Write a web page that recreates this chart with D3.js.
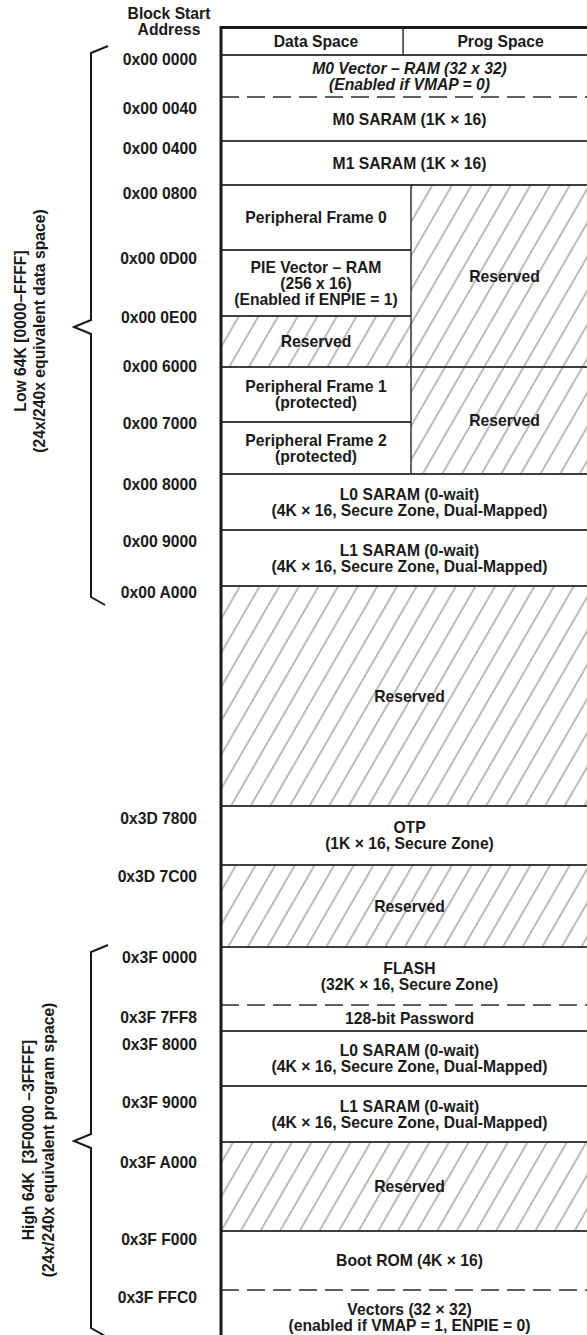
<!DOCTYPE html>
<html>
<head lang="en">
  <meta charset="UTF-8">
  <title>Memory map</title>
  <script src="https://cdn.jsdelivr.net/npm/d3@7"></script>
  <style>
    body { margin: 0; background: #fff; }
    text { font-family: 'Liberation Sans', Arial, sans-serif; font-weight: bold; fill: #1a1a1a; }
  </style>
</head>
<body>
  <script type="text/javascript">
    var W = 587, H = 1335;

    var columns = ['Data Space', 'Prog Space'];
    var axisTitle = ['Block Start', 'Address'];

    var addresses = ['0x00 0000', '0x00 0040', '0x00 0400', '0x00 0800', '0x00 0D00', '0x00 0E00',
                     '0x00 6000', '0x00 7000', '0x00 8000', '0x00 9000', '0x00 A000', '0x3D 7800',
                     '0x3D 7C00', '0x3F 0000', '0x3F 7FF8', '0x3F 8000', '0x3F 9000', '0x3F A000',
                     '0x3F F000', '0x3F FFC0'];
    // where each address label sits along the map (map units, 0 = below the header)
    var addressAt = [4, 53, 93, 138, 203, 262, 311, 368, 429, 486, 537, 763, 821, 902, 962, 989,
                     1047, 1107, 1184, 1242];

    // memory blocks, top to bottom: text, which space, span along the map
    var blocks = [
      {text: ['M0 Vector – RAM (32 x 32)', '(Enabled if VMAP = 0)'], col: 'all', from: 0, to: 42},
      {text: ['M0 SARAM (1K × 16)'], col: 'all', from: 42, to: 86},
      {text: ['M1 SARAM (1K × 16)'], col: 'all', from: 86, to: 130},
      {text: ['Peripheral Frame 0'], col: 'data', from: 130, to: 195},
      {text: ['PIE Vector – RAM', '(256 x 16)', '(Enabled if ENPIE = 1)'], col: 'data', from: 195, to: 261},
      {text: ['Reserved'], col: 'data', from: 261, to: 312},
      {text: ['Peripheral Frame 1', '(protected)'], col: 'data', from: 312, to: 367},
      {text: ['Peripheral Frame 2', '(protected)'], col: 'data', from: 367, to: 419},
      {text: ['Reserved'], col: 'prog', from: 130, to: 312},
      {text: ['Reserved'], col: 'prog', from: 312, to: 419},
      {text: ['L0 SARAM (0-wait)', '(4K × 16, Secure Zone, Dual-Mapped)'], col: 'all', from: 419, to: 475},
      {text: ['L1 SARAM (0-wait)', '(4K × 16, Secure Zone, Dual-Mapped)'], col: 'all', from: 475, to: 531},
      {text: ['Reserved'], col: 'all', from: 531, to: 751},
      {text: ['OTP', '(1K × 16, Secure Zone)'], col: 'all', from: 751, to: 810},
      {text: ['Reserved'], col: 'all', from: 810, to: 892},
      {text: ['FLASH', '(32K × 16, Secure Zone)'], col: 'all', from: 892, to: 950},
      {text: ['128-bit Password'], col: 'all', from: 950, to: 976},
      {text: ['L0 SARAM (0-wait)', '(4K × 16, Secure Zone, Dual-Mapped)'], col: 'all', from: 976, to: 1031},
      {text: ['L1 SARAM (0-wait)', '(4K × 16, Secure Zone, Dual-Mapped)'], col: 'all', from: 1031, to: 1087},
      {text: ['Reserved'], col: 'all', from: 1087, to: 1176},
      {text: ['Boot ROM (4K × 16)'], col: 'all', from: 1176, to: 1235},
      {text: ['Vectors (32 × 32)', '(enabled if VMAP = 1, ENPIE = 0)'], col: 'all', from: 1235, to: 1289}
    ];
    // boundaries drawn dashed (map units)
    var dashedAt = [42, 950, 1235];
    var italicBlocks = [0];

    // braces on the left: label lines, span and tip (map units)
    var groups = [
      {lines: ['Low 64K [0000–FFFF]', '(24x/240x equivalent data space)'], from: -2, to: 542, tip: 272, mid: 276},
      {lines: ['High 64K  [3F0000 –3FFFF]', '(24x/240x equivalent program space)'], from: 897, to: 1273, tip: 1086, mid: 1085}
    ];
    var groupTextX = [[20, 39], [28, 48]];

    var svg = d3.select('body').append('svg')
        .attr('width', W)
        .attr('height', H);

    var y = d3.scaleLinear().domain([0, 1289]).range([55, 1344]);
    var x = d3.scaleLinear().domain([0, 1]).range([221, 598]);
    var split = 0.504, headSplit = 0.483;

    function colX(col) {
      if (col === 'data') return [x(0), x(split)];
      if (col === 'prog') return [x(split), x(1)];
      return [x(0), x(1)];
    }

    // hatch for reserved areas
    var defs = svg.append('defs');
    var pat = defs.append('pattern')
        .attr('id', 'hatch')
        .attr('patternUnits', 'userSpaceOnUse')
        .attr('width', 17)
        .attr('height', 40)
        .attr('patternTransform', 'rotate(30)');
    pat.append('line')
        .attr('x1', 8).attr('y1', 0).attr('x2', 8).attr('y2', 40)
        .attr('stroke', '#b4b4b4')
        .attr('stroke-width', 1.8);

    // cells
    blocks.forEach(function (b, i) {
      var xs = colX(b.col);
      var reserved = b.text[0] === 'Reserved';
      svg.append('rect')
          .attr('x', xs[0]).attr('y', y(b.from))
          .attr('width', xs[1] - xs[0]).attr('height', y(b.to) - y(b.from))
          .attr('fill', reserved ? 'url(#hatch)' : '#fff');
    });

    // cell boundaries
    blocks.forEach(function (b) {
      var xs = colX(b.col);
      [b.from, b.to].forEach(function (v) {
        var dashed = dashedAt.indexOf(v) >= 0;
        svg.append('line')
            .attr('x1', xs[0]).attr('x2', xs[1])
            .attr('y1', y(v)).attr('y2', y(v))
            .attr('stroke', dashed ? '#555' : '#333')
            .attr('stroke-width', dashed ? 1.3 : 1.5)
            .attr('stroke-dasharray', dashed ? '18,8' : null);
      });
      if (b.col === 'prog') {
        svg.append('line')
            .attr('x1', xs[0]).attr('x2', xs[0])
            .attr('y1', y(b.from)).attr('y2', y(b.to))
            .attr('stroke', '#333').attr('stroke-width', 1.5);
      }
    });

    // header row
    svg.append('line')
        .attr('x1', x(headSplit)).attr('x2', x(headSplit))
        .attr('y1', y(-27.5)).attr('y2', y(0))
        .attr('stroke', '#333').attr('stroke-width', 1.5);
    svg.append('line')
        .attr('x1', x(0)).attr('x2', x(1))
        .attr('y1', y(0)).attr('y2', y(0))
        .attr('stroke', '#333').attr('stroke-width', 1.5);

    var fs = 15.7, lh = 16;
    svg.selectAll('.colhead')
        .data(columns)
        .enter().append('text')
        .attr('class', 'colhead')
        .attr('x', function (d, i) { return i === 0 ? (x(0) + x(split)) / 2 : (x(headSplit) + x(1)) / 2; })
        .attr('y', (y(-27.5) + y(0)) / 2 + fs * 0.36)
        .attr('text-anchor', 'middle')
        .style('font-size', fs + 'px')
        .text(function (d) { return d; });

    // thick outer border (top and left)
    svg.append('path')
        .attr('d', 'M' + x(1) + ',' + y(-27.5) + 'H' + x(0) + 'V' + H)
        .attr('fill', 'none')
        .attr('stroke', '#1a1a1a')
        .attr('stroke-width', 3);

    // block labels
    blocks.forEach(function (b, i) {
      var xs = colX(b.col);
      var cy = (y(b.from) + y(b.to)) / 2;
      var n = b.text.length;
      var t = svg.append('text')
          .attr('text-anchor', 'middle')
          .style('font-size', fs + 'px')
          .style('font-style', italicBlocks.indexOf(i) >= 0 ? 'italic' : 'normal');
      b.text.forEach(function (line, k) {
        t.append('tspan')
            .attr('x', (xs[0] + xs[1]) / 2)
            .attr('y', cy + (k - (n - 1) / 2) * lh + fs * 0.36)
            .text(line);
      });
    });

    // address axis
    svg.append('text')
        .attr('text-anchor', 'middle')
        .style('font-size', fs + 'px')
        .selectAll('tspan')
        .data(axisTitle)
        .enter().append('tspan')
        .attr('x', 169)
        .attr('y', function (d, i) { return 13 + fs * 0.36 + i * 16; })
        .text(function (d) { return d; });

    svg.selectAll('.addr')
        .data(addresses)
        .enter().append('text')
        .attr('class', 'addr')
        .attr('x', 197)
        .attr('y', function (d, i) { return y(addressAt[i]) + fs * 0.36; })
        .attr('text-anchor', 'end')
        .style('font-size', fs + 'px')
        .text(function (d) { return d; });

    // braces + group labels
    var bx = 91;
    groups.forEach(function (g, gi) {
      var p = d3.path();
      p.moveTo(bx + 17, y(g.from) - 7);
      p.lineTo(bx, y(g.from));
      p.lineTo(bx, y(g.tip) - 7);
      p.lineTo(bx - 17, y(g.tip));
      p.lineTo(bx, y(g.tip) + 7);
      p.lineTo(bx, y(g.to));
      p.lineTo(bx + 14, y(g.to) + 8);
      svg.append('path')
          .attr('d', p.toString())
          .attr('fill', 'none')
          .attr('stroke', '#1a1a1a')
          .attr('stroke-width', 2);

      g.lines.forEach(function (line, k) {
        var tx = groupTextX[gi][k] + fs * 0.36, ty = y(g.mid);
        svg.append('text')
            .attr('transform', 'translate(' + tx + ',' + ty + ') rotate(-90)')
            .attr('text-anchor', 'middle')
            .style('font-size', fs + 'px')
            .style('white-space', 'pre')
            .text(line);
      });
    });
  </script>
</body>
</html>
